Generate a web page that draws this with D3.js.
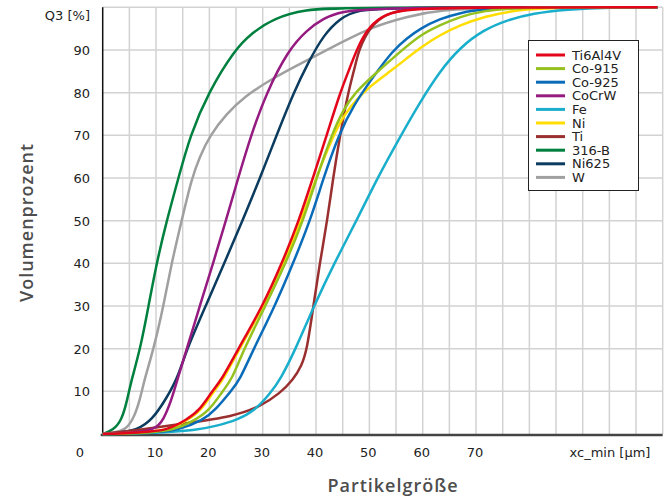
<!DOCTYPE html>
<html>
<head>
<meta charset="utf-8">
<script src="https://cdn.jsdelivr.net/npm/d3@7"></script>
<style>
  html, body { margin: 0; padding: 0; background: #fff; }
  svg { display: block; }
</style>
</head>
<body>
<div id="chart"></div>
<script>
// Cumulative particle size distribution (Q3) per powder

const names = ['Ti6Al4V', 'Co-915', 'Co-925', 'CoCrW', 'Fe', 'Ni', 'Ti', '316-B', 'Ni625', 'W'];
const colors = ['#e3061a', '#95c11f', '#0a6cb8', '#951b81', '#19aecb', '#ffdd00', '#9a2f2f', '#00803f', '#0b3b5e', '#a0a0a0'];

// [particle size µm, Q3 %]
const ti6al4v = [[0,0],[5,0.2],[9,0.6],[12,0.9],[15.7,3.3],[18.2,5.6],[20.5,10],[22.3,12.7],[25.3,19.7],[30,30],[33.6,40],[36.8,50],[39.4,60],[42,70],[44.5,80],[46.4,86],[47.6,90],[49.5,94.7],[52,97.8],[55.7,99.4],[65,100],[104,100]];
const co915 = [[0,0],[5,0.1],[9,0.4],[13.2,0.9],[17,3],[20.1,5.6],[22.6,10.3],[24.2,12.7],[26.4,19.7],[30.5,30],[34.3,40],[37.6,50],[40.1,60],[42.9,70],[45.1,76],[47.3,80],[50.7,84],[55.7,89.5],[59.5,93.5],[63.2,95.8],[67,97.8],[71.4,99.2],[78,100],[104,100]];
const co925 = [[0,0],[5,0.1],[10,0.4],[14.4,1],[18.9,3.3],[21.1,5.6],[24.2,10.3],[25.7,12.7],[28.2,19.7],[32.3,30],[35.7,40],[38.9,50],[41.4,60],[44.2,70],[47,77],[50.7,83.7],[54.5,90],[57,92.7],[59.5,95],[63.2,97.3],[67,98.7],[71.4,99.6],[80,100],[104,100]];
const cocrw = [[0,0],[5,0.2],[9.8,0.9],[11.4,3.3],[12.9,8],[14,12.7],[15.7,19.7],[18.2,30],[20.7,40],[23.1,50],[25.4,60],[27.8,70],[30.7,80],[34.8,90],[38.3,94.7],[41.4,97.4],[44.5,99],[52,100],[104,100]];
const fe = [[0,0],[10,0.2],[17.6,0.9],[21,1.8],[25.3,3.3],[28.6,5.6],[31.4,9.5],[33.4,13],[36.1,19.7],[39.6,30],[43.4,40],[47.6,50],[51.5,60],[55.7,69.5],[59.5,77.8],[63.2,85],[67,90.6],[71.4,94.7],[75.8,97],[80.7,98.6],[87,99.5],[95,100],[104,100]];
const ni = [[0,0],[5,0.2],[9,0.6],[12.3,0.9],[16,3.3],[18.5,5.6],[20.8,10],[22.6,12.7],[25.5,19.7],[30.2,30],[33.9,40],[37.2,50],[40,60],[42.9,69],[45.3,75],[48.2,79.3],[50.7,82],[53.9,85],[57,88],[59.5,90.5],[63.2,93.5],[67,95.8],[71.4,97.8],[77.6,99.4],[85,100],[104,100]];
const ti = [[0,0],[6.4,0.9],[15.7,2.5],[24.5,4.1],[29.5,6.4],[33.2,9.5],[35.7,12.7],[37.3,16],[38.3,19.7],[39.5,30],[40.7,40],[42.1,50],[43.2,60],[44.5,70],[46,80],[47.3,86],[48,90],[50.1,95.5],[53.2,98.6],[57,99.6],[63,100],[104,100]];
const b316 = [[0,0],[2,0.9],[3.6,3.3],[4.6,8],[5.4,12.7],[7,19.7],[8.6,30],[10.1,40],[12,50],[14.2,60],[16.4,70],[19.8,80],[24.7,90],[28,94],[32,97.4],[38,99.5],[45,100],[104,100]];
const ni625 = [[0,0],[3,0.3],[6.4,0.9],[9.3,3.3],[12,8.5],[14,13],[15.8,20],[19.3,30],[22.8,40],[26.2,50],[29.5,60],[32.6,70],[35.8,80],[38.5,87],[41.4,93.5],[44.5,97.4],[47.6,99.4],[55,100],[104,100]];
const w = [[0,0],[2,0.3],[4.2,0.9],[5.7,3.3],[7,8],[7.8,12.7],[9.5,19.7],[11.4,30],[12.9,40],[14.8,50],[16.7,60],[18.2,65],[20.1,70],[23.2,75],[26.5,79],[32,83.5],[38.3,87.6],[44.5,91.6],[50.7,95.5],[57,97.8],[63,99.4],[75,100],[104,100]];

const seriesData = [ti6al4v, co915, co925, cocrw, fe, ni, ti, b316, ni625, w];

const xTicks = [10, 20, 30, 40, 50, 60, 70];
const yTicks = [10, 20, 30, 40, 50, 60, 70, 80, 90];
const xGrid = d3.range(5, 106, 5);
const yGrid = d3.range(10, 101, 10);

const width = 664;
const height = 499;
const margin = { top: 7.3, right: 1.3, bottom: 65, left: 102.7 };

const svg = d3.select('#chart').append('svg')
  .attr('width', width)
  .attr('height', height);

const x = d3.scaleLinear().domain([0, 105]).range([margin.left, width - margin.right]);
const y = d3.scaleLinear().domain([0, 100]).range([height - margin.bottom, margin.top]);

const tickFont = "'DejaVu Sans', Verdana, sans-serif";
const titleFont = "'Open Sans', sans-serif";

// Grid lines
svg.append('g')
  .selectAll('line')
  .data(xGrid)
  .join('line')
  .attr('x1', d => x(d)).attr('x2', d => x(d))
  .attr('y1', y(0)).attr('y2', y(100))
  .attr('stroke', '#d2d2d2')
  .attr('stroke-width', 1.5);

svg.append('g')
  .selectAll('line')
  .data(yGrid)
  .join('line')
  .attr('x1', x(0)).attr('x2', x(105))
  .attr('y1', d => y(d)).attr('y2', d => y(d))
  .attr('stroke', '#d2d2d2')
  .attr('stroke-width', 1.5);

// Axes lines
svg.append('line')
  .attr('x1', x(0)).attr('x2', x(0))
  .attr('y1', y(0)).attr('y2', y(100))
  .attr('stroke', '#111').attr('stroke-width', 1.5);

svg.append('line')
  .attr('x1', x(0) - 2).attr('x2', x(105))
  .attr('y1', y(0) + 1).attr('y2', y(0) + 1)
  .attr('stroke', '#444').attr('stroke-width', 2.5);

// Tick labels
svg.append('g')
  .selectAll('text')
  .data(xTicks)
  .join('text')
  .attr('x', d => x(d) - 1)
  .attr('y', 457)
  .attr('text-anchor', 'middle')
  .attr('font-family', tickFont)
  .attr('font-size', 13)
  .attr('fill', '#222')
  .text(d => d);

svg.append('g')
  .selectAll('text')
  .data(yTicks)
  .join('text')
  .attr('x', 90)
  .attr('y', d => y(d) + 5)
  .attr('text-anchor', 'end')
  .attr('font-family', tickFont)
  .attr('font-size', 13)
  .attr('fill', '#222')
  .text(d => d);

svg.append('text')
  .attr('x', 80).attr('y', 457)
  .attr('text-anchor', 'middle')
  .attr('font-family', tickFont).attr('font-size', 13).attr('fill', '#222')
  .text('0');

svg.append('text')
  .attr('x', 90).attr('y', 20)
  .attr('text-anchor', 'end')
  .attr('font-family', tickFont).attr('font-size', 13).attr('fill', '#222')
  .text('Q3 [%]');

svg.append('text')
  .attr('x', 610).attr('y', 457)
  .attr('text-anchor', 'middle')
  .attr('font-family', tickFont).attr('font-size', 13).attr('fill', '#222')
  .text('xc_min [µm]');

// Axis titles
svg.append('text')
  .attr('x', 393).attr('y', 492)
  .attr('text-anchor', 'middle')
  .attr('font-family', titleFont)
  .attr('font-weight', 600)
  .attr('font-size', 18)
  .attr('letter-spacing', 1)
  .attr('fill', '#4d4d4d')
  .text('Partikelgröße');

svg.append('text')
  .attr('transform', 'translate(33,222.5) rotate(-90)')
  .attr('text-anchor', 'middle')
  .attr('font-family', titleFont)
  .attr('font-weight', 600)
  .attr('font-size', 18)
  .attr('letter-spacing', 1)
  .attr('fill', '#4d4d4d')
  .text('Volumenprozent');

// Curves (drawn last-to-first so the first legend entry sits on top)
const line = d3.line()
  .x(d => x(d[0]))
  .y(d => y(d[1]))
  .curve(d3.curveBasis);

const order = d3.range(seriesData.length).reverse();
svg.append('g')
  .selectAll('path')
  .data(order)
  .join('path')
  .attr('d', i => line(seriesData[i]))
  .attr('fill', 'none')
  .attr('stroke', i => colors[i])
  .attr('stroke-width', 2.5)
  .attr('stroke-linejoin', 'round');

// Legend
const legend = svg.append('g').attr('transform', 'translate(528.5,40.5)');
legend.append('rect')
  .attr('width', 110).attr('height', 150)
  .attr('fill', '#fff')
  .attr('stroke', '#222').attr('stroke-width', 1);

names.forEach((name, i) => {
  const row = legend.append('g').attr('transform', `translate(0,${14.5 + i * 13.6})`);
  row.append('line')
    .attr('x1', 7.5).attr('x2', 36.5)
    .attr('stroke', colors[i]).attr('stroke-width', 3);
  row.append('text')
    .attr('x', 43.5).attr('y', 4.5)
    .attr('font-family', tickFont)
    .attr('font-size', 13)
    .attr('fill', '#222')
    .text(name);
});
</script>
</body>
</html>
